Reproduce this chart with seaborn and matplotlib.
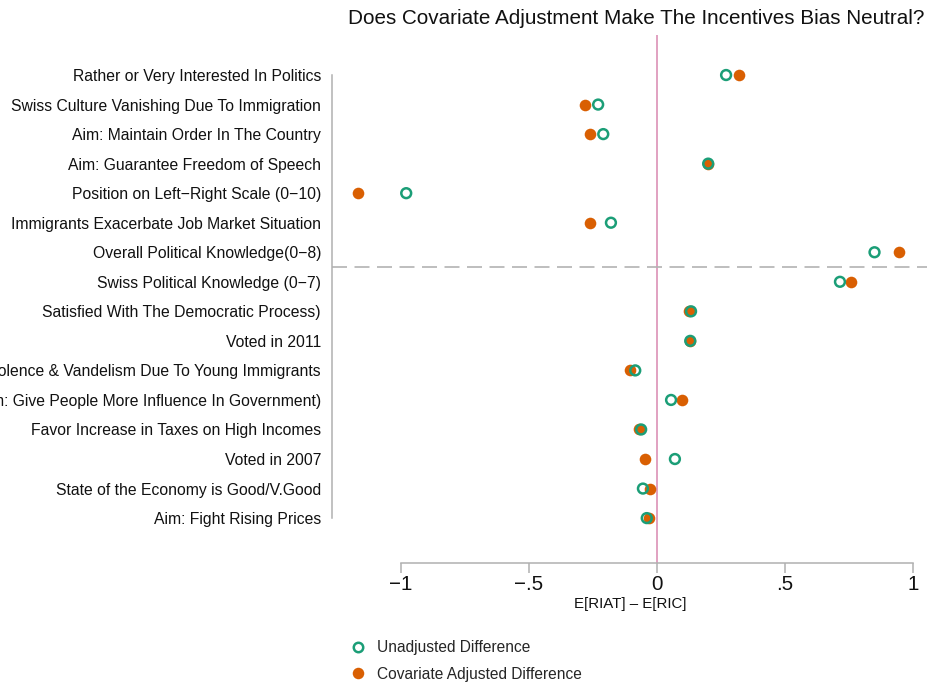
import matplotlib
matplotlib.use("Agg")
import matplotlib.pyplot as plt
import seaborn as sns
import pandas as pd
from matplotlib.lines import Line2D

sns.set_theme(style="white")
plt.rcParams['font.family'] = ['Liberation Sans', 'DejaVu Sans']

categories = [
    "Rather or Very Interested In Politics",
    "Swiss Culture Vanishing Due To Immigration",
    "Aim: Maintain Order In The Country",
    "Aim: Guarantee Freedom of Speech",
    "Position on Left\u2212Right Scale (0\u221210)",
    "Immigrants Exacerbate Job Market Situation",
    "Overall Political Knowledge(0\u22128)",
    "Swiss Political Knowledge (0\u22127)",
    "Satisfied With The Democratic Process)",
    "Voted in 2011",
    "Violence & Vandelism Due To Young Immigrants",
    "Aim: Give People More Influence In Government)",
    "Favor Increase in Taxes on High Incomes",
    "Voted in 2007",
    "State of the Economy is Good/V.Good",
    "Aim: Fight Rising Prices",
]
unadjusted = [0.27, -0.23, -0.21, 0.20, -0.98, -0.18, 0.85, 0.715,
              0.133, 0.13, -0.085, 0.055, -0.062, 0.07, -0.055, -0.04]
adjusted = [0.32, -0.28, -0.26, 0.20, -1.17, -0.26, 0.945, 0.76,
            0.125, 0.13, -0.105, 0.098, -0.07, -0.045, -0.028, -0.032]
xticks = [-1, -0.5, 0, 0.5, 1]
xticklabels = ["\u22121", "\u2212.5", "0", ".5", "1"]
title = "Does Covariate Adjustment Make The Incentives Bias Neutral?"
xlabel = "E[RIAT] \u2013 E[RIC]"
series_names = ["Unadjusted Difference", "Covariate Adjusted Difference"]

GREEN = "#1b9e77"
ORANGE = "#d95f02"

df = pd.DataFrame({"cat": categories, "pos": range(len(categories)),
                   "unadj": unadjusted, "adj": adjusted})

fig = plt.figure(figsize=(9.28, 6.85), dpi=100)
ax = fig.add_axes([332/928, 1-563/685, 1-332/928, (563-35)/685])

sns.scatterplot(data=df, x="adj", y="pos", ax=ax, marker="o", s=70,
                color=ORANGE, edgecolor=ORANGE, linewidth=0, zorder=3)
sns.scatterplot(data=df, x="unadj", y="pos", ax=ax, marker="o", s=50,
                facecolors="none", edgecolor=GREEN, linewidth=1.8, zorder=4)

ax.axvline(0, color="#d987b0", lw=1.1, zorder=1)
ax.axhline(6.5, color="#b3b3b3", lw=1.2, linestyle=(0, (9, 4.5)), zorder=1)

ax.set_xlim(-1.270, 1.059)
ax.set_ylim(16.52, -1.355)
ax.set_yticks(df["pos"])
ax.set_yticklabels(categories, fontsize=11.3, color="#111111")
ax.set_xticks(xticks)
ax.set_xticklabels(xticklabels, fontsize=14.8, color="#111111")
ax.set_xlabel(xlabel, fontsize=10.8, color="#111111", labelpad=2)
ax.set_ylabel("")

for s in ["top", "right"]:
    ax.spines[s].set_visible(False)
for s in ["left", "bottom"]:
    ax.spines[s].set_color("#b0b0b0")
    ax.spines[s].set_linewidth(1.1)
ax.spines["left"].set_bounds(0, 15)
ax.spines["bottom"].set_bounds(-1, 1)
ax.tick_params(axis="x", direction="out", length=7, width=1.1, color="#b0b0b0", pad=2, bottom=True)
ax.tick_params(axis="y", length=0, pad=8)

fig.text(636/928, 1-18/685, title, ha="center", va="center", fontsize=14.9, color="#111111")

handles = [
    Line2D([], [], linestyle="none", marker="o", markersize=6.8, markerfacecolor="none",
           markeredgecolor=GREEN, markeredgewidth=1.8),
    Line2D([], [], linestyle="none", marker="o", markersize=8.3, markerfacecolor=ORANGE,
           markeredgecolor=ORANGE, markeredgewidth=0),
]
fig.legend(handles, series_names, loc="upper left", bbox_to_anchor=(349/928, 1-640/685),
           frameon=False, fontsize=11.2, handletextpad=0.6, labelspacing=0.75,
           handlelength=1.2, borderpad=0, borderaxespad=0)

fig.savefig("out.png", dpi=100)
